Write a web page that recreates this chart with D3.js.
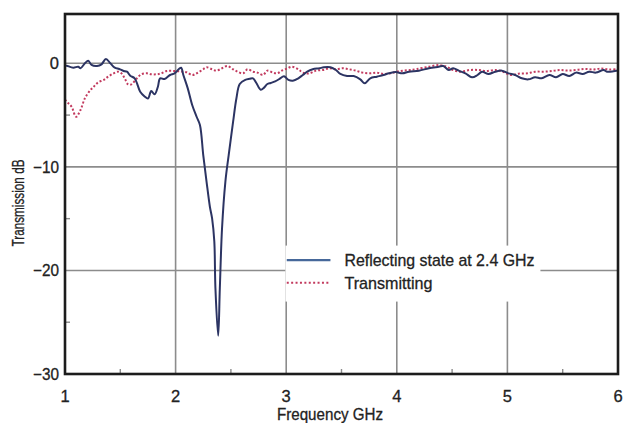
<!DOCTYPE html>
<html>
<head>
<meta charset="utf-8">
<script src="https://cdn.jsdelivr.net/npm/d3@7"></script>
<style>
  html, body { margin: 0; padding: 0; background: #fff; }
  svg { display: block; }
  text { font-family: "Liberation Sans Narrow", "Arial Narrow", "Liberation Sans", sans-serif; fill: #222; stroke: #222; stroke-width: 0.3px; }
</style>
</head>
<body>
<svg id="chart" width="623" height="423"></svg>
<script>
// Frequency sweep, GHz
const reflectFreq = [1.00,1.015,1.075,1.12,1.14,1.18,1.21,1.24,1.29,1.33,1.37,1.41,1.45,1.49,1.53,1.56,1.59,1.63,1.68,1.72,1.75,1.78,1.81,1.84,1.86,1.90,1.95,1.99,2.03,2.05,2.07,2.11,2.15,2.19,2.22,2.25,2.28,2.31,2.33,2.35,2.36,2.385,2.40,2.42,2.45,2.48,2.52,2.55,2.58,2.63,2.67,2.70,2.73,2.77,2.80,2.83,2.86,2.90,2.94,2.98,3.02,3.06,3.11,3.15,3.19,3.24,3.30,3.34,3.40,3.45,3.49,3.55,3.61,3.67,3.71,3.76,3.82,3.88,3.93,3.99,4.05,4.11,4.20,4.29,4.38,4.42,4.47,4.51,4.56,4.62,4.68,4.73,4.77,4.83,4.89,4.95,5.01,5.07,5.13,5.19,5.25,5.31,5.38,5.44,5.50,5.56,5.62,5.68,5.74,5.80,5.87,5.90,6.00];
// Reflecting state at 2.4 GHz, transmission dB
const reflectDb = [-0.2,-0.23,-0.42,-0.33,-0.48,0,0.25,-0.16,-0.26,-0.1,0.42,0,-0.42,-0.55,-0.74,-0.81,-1.2,-1.45,-2.74,-3.2,-3.4,-2.68,-3.0,-2.26,-1.45,-1.52,-1.13,-0.97,-0.55,-0.42,-1.13,-2.42,-4.03,-5.16,-5.96,-8.86,-11.44,-13.85,-14.98,-17.2,-21.7,-26.3,-21.7,-15.9,-11.44,-8.86,-5.64,-3.38,-2.0,-1.6,-1.5,-1.45,-1.9,-2.55,-2.35,-2.0,-1.9,-1.75,-1.5,-1.25,-1.6,-1.68,-1.45,-1.13,-0.81,-0.58,-0.48,-0.39,-0.39,-0.65,-1.03,-1.23,-1.23,-1.55,-1.93,-1.45,-1.29,-1.13,-0.97,-0.85,-0.97,-0.81,-0.71,-0.48,-0.33,-0.26,-0.65,-0.48,-0.71,-0.97,-1.35,-1.13,-0.81,-1.03,-0.81,-0.71,-0.97,-1.13,-1.45,-1.55,-1.35,-1.45,-1.13,-1.35,-1.03,-1.23,-0.9,-1.03,-0.81,-0.9,-0.65,-0.81,-0.7];

const transmitFreq = [1.00,1.03,1.06,1.10,1.14,1.18,1.23,1.26,1.30,1.35,1.39,1.44,1.48,1.51,1.54,1.57,1.60,1.65,1.69,1.74,1.78,1.83,1.87,1.92,1.98,2.04,2.10,2.15,2.19,2.24,2.28,2.33,2.37,2.42,2.47,2.52,2.56,2.61,2.65,2.70,2.74,2.79,2.83,2.88,2.92,2.96,3.01,3.05,3.11,3.15,3.21,3.27,3.33,3.39,3.45,3.51,3.57,3.63,3.69,3.76,3.82,3.88,3.94,4.00,4.06,4.12,4.18,4.29,4.38,4.45,4.51,4.57,4.66,4.74,4.81,4.89,4.96,5.03,5.10,5.18,5.25,5.33,5.40,5.47,5.54,5.62,5.70,5.78,5.85,5.92,6.00];
// Transmitting state, transmission dB
const transmitDb = [-3.5,-3.86,-4.19,-5.16,-4.51,-3.38,-2.58,-2.26,-1.84,-1.61,-1.29,-0.97,-0.81,-0.97,-1.45,-2.03,-2.03,-1.45,-1.06,-0.97,-1.06,-1.06,-0.97,-0.74,-0.74,-0.78,-0.87,-1.13,-0.97,-0.65,-0.39,-0.58,-0.71,-0.48,-0.26,-0.58,-0.81,-0.97,-0.58,-0.81,-0.9,-1.13,-0.71,-0.9,-0.97,-0.71,-0.5,-0.33,-0.58,-0.9,-0.97,-0.71,-0.65,-0.48,-0.58,-0.48,-0.58,-0.71,-0.9,-0.97,-0.9,-1.03,-0.97,-0.81,-0.71,-0.65,-0.55,-0.33,-0.17,-0.33,-0.65,-0.81,-0.65,-0.65,-0.75,-0.65,-0.81,-1.13,-1.0,-0.97,-0.81,-0.81,-0.75,-0.65,-0.7,-0.65,-0.55,-0.6,-0.5,-0.6,-0.55];

const xTicks = [1, 2, 3, 4, 5, 6];
const xMinorTicks = [1.5, 2.5, 3.5, 4.5, 5.5];
const yTicks = [0, -10, -20, -30];
const yMinorTicks = [-5, -15, -25];
const seriesNames = ["Reflecting state at 2.4 GHz", "Transmitting"];

const W = 623, H = 423;
const margin = { top: 14, right: 5, bottom: 49, left: 65 };
const iw = W - margin.left - margin.right;
const ih = H - margin.top - margin.bottom;

const svg = d3.select("#chart");
const g = svg.append("g").attr("transform", `translate(${margin.left},${margin.top})`);

const x = d3.scaleLinear().domain([1, 6]).range([0, iw]);
const y = d3.scaleLinear().domain([-30, 4.76]).range([ih, 0]);

const gridColor = "#8c8c8c";
const fmt = v => v < 0 ? "\u2212" + Math.abs(v) : String(v);

// condensed look: squeeze a label to a given width
function fit(sel, len) {
  sel.attr("textLength", len).attr("lengthAdjust", "spacingAndGlyphs");
}

// grid lines
g.append("g").selectAll("line").data(xTicks.slice(1, -1)).join("line")
  .attr("x1", d => x(d)).attr("x2", d => x(d)).attr("y1", 0).attr("y2", ih)
  .attr("stroke", gridColor).attr("stroke-width", 1.6);
g.append("g").selectAll("line").data(yTicks.slice(0, -1)).join("line")
  .attr("x1", 0).attr("x2", iw).attr("y1", d => y(d)).attr("y2", d => y(d))
  .attr("stroke", gridColor).attr("stroke-width", 1.6);

// minor ticks
g.append("g").selectAll("line").data(xMinorTicks).join("line")
  .attr("x1", d => x(d)).attr("x2", d => x(d)).attr("y1", ih).attr("y2", ih - 5)
  .attr("stroke", gridColor).attr("stroke-width", 1.4);
g.append("g").selectAll("line").data(yMinorTicks).join("line")
  .attr("x1", 0).attr("x2", 5).attr("y1", d => y(d)).attr("y2", d => y(d))
  .attr("stroke", gridColor).attr("stroke-width", 1.4);

// curves
const line = d3.line().x(d => x(d[0])).y(d => y(d[1])).curve(d3.curveCatmullRom.alpha(0.5));
const transmit = transmitFreq.map((f, i) => [f, transmitDb[i]]);
const reflect = reflectFreq.map((f, i) => [f, reflectDb[i]]);

g.append("path").datum(transmit).attr("d", line)
  .attr("fill", "none").attr("stroke", "#c23a5e").attr("stroke-width", 2)
  .attr("stroke-dasharray", "2,2");
g.append("path").datum(reflect).attr("d", line)
  .attr("fill", "none").attr("stroke", "#2c3463").attr("stroke-width", 2)
  .attr("stroke-linejoin", "round");

// legend panel
const leg = g.append("g");
leg.append("rect").attr("x", x(2.993)).attr("y", y(-17.6)).attr("width", 255).attr("height", 56).attr("fill", "#fff");
const legY = [y(-19.0), y(-21.2)];
leg.append("line").attr("x1", x(3.005)).attr("x2", x(3.4)).attr("y1", legY[0]).attr("y2", legY[0])
  .attr("stroke", "#46689a").attr("stroke-width", 2.2);
leg.append("line").attr("x1", x(3.005)).attr("x2", x(3.4)).attr("y1", legY[1]).attr("y2", legY[1])
  .attr("stroke", "#c23a5e").attr("stroke-width", 2).attr("stroke-dasharray", "2,2.4");
const legWidths = [190, 88];
leg.selectAll("text").data(seriesNames).join("text")
  .attr("x", x(3.4) + 14).attr("y", (d, i) => legY[i] + 6)
  .attr("font-size", 17).text(d => d)
  .each(function (d, i) { fit(d3.select(this), legWidths[i]); });

// frame
g.append("rect").attr("x", 0).attr("y", 0).attr("width", iw).attr("height", ih)
  .attr("fill", "none").attr("stroke", "#1c1c1c").attr("stroke-width", 2.6);

// tick labels
g.append("g").selectAll("text").data(xTicks).join("text")
  .attr("x", d => x(d)).attr("y", ih + 28).attr("text-anchor", "middle")
  .attr("font-size", 16.5).text(d => fmt(d));
g.append("g").selectAll("text").data(yTicks).join("text")
  .attr("x", -6).attr("y", d => y(d) + 6).attr("text-anchor", "end")
  .attr("font-size", 16.5).text(d => fmt(d))
  .each(function (d) { if (d !== 0) fit(d3.select(this), 26); });

// axis titles
svg.append("text").attr("x", 330).attr("y", 420).attr("text-anchor", "middle")
  .attr("font-size", 16.5).text("Frequency GHz")
  .call(fit, 106);
svg.append("text").attr("transform", "translate(24,203) rotate(-90)").attr("text-anchor", "middle")
  .attr("font-size", 16).text("Transmission dB")
  .call(fit, 87);
</script>
</body>
</html>
